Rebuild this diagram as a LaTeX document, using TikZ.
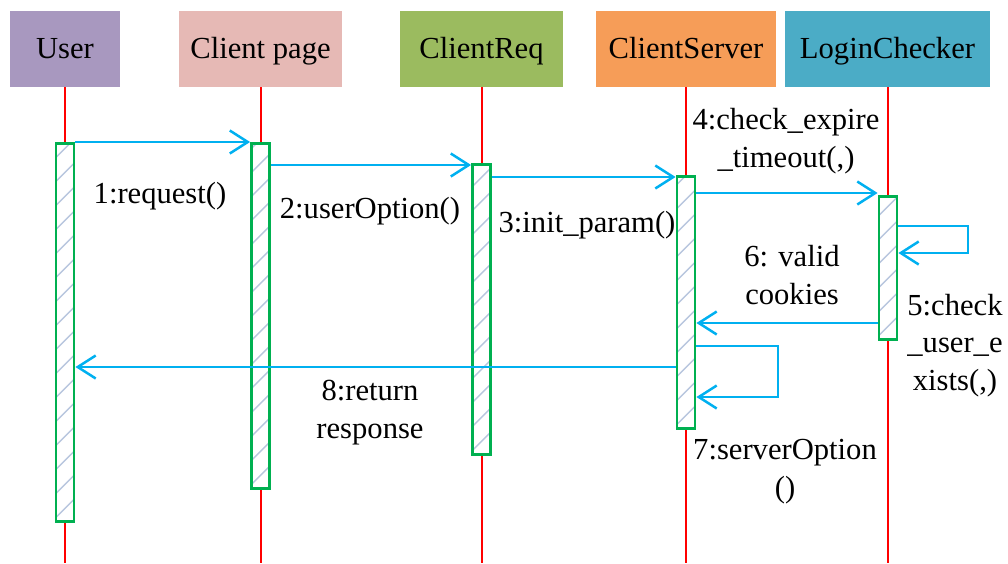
\documentclass[tikz,border=0pt]{standalone}
\usepackage{fontspec}
\setmainfont{Liberation Serif}
\usetikzlibrary{arrows.meta,calc}

\definecolor{cUser}{HTML}{A898BF}
\definecolor{cPage}{HTML}{E6B9B5}
\definecolor{cReq}{HTML}{9BBB5F}
\definecolor{cServ}{HTML}{F69D58}
\definecolor{cLogin}{HTML}{4BACC6}
\definecolor{lifered}{HTML}{FF0000}
\definecolor{bargreen}{HTML}{00B050}
\definecolor{hatchblue}{HTML}{B8C6DE}
\definecolor{msgblue}{HTML}{00B0F0}

\tikzset{
  every node/.style={font=\fontsize{30.6}{37.5}\selectfont},
  hdr/.style={rectangle, inner sep=0pt, minimum height=76pt,
    text height=24pt, text depth=6pt},
  life/.style={draw=lifered, line width=2pt},
  hatchline/.style={draw=hatchblue, line width=1.4pt},
  actbar/.style={rectangle, draw=bargreen, line width=2.8pt, fill=white,
    minimum width=18pt, inner sep=0pt, anchor=north,
    path picture={
      \foreach \k in {-1,...,18}{
        \draw[hatchline] ($(path picture bounding box.south west)+(0pt,\k*24pt-20pt)$) -- ++(22pt,22pt);
      }
    }},
  msg/.style={draw=msgblue, line width=2.5pt,
    -{Straight Barb[length=18pt,width=23pt]}},
  lbl/.style={align=center, inner sep=0pt},
}

\begin{document}
\begin{tikzpicture}[x=1pt,y=-1pt]
  \useasboundingbox (0,0) rectangle (1008,563);

  % participant heads
  \node[hdr, fill=cUser,  minimum width=110pt] (hUser)  at (65,49)    {User};
  \node[hdr, fill=cPage,  minimum width=163pt] (hPage)  at (260.5,49) {Client page};
  \node[hdr, fill=cReq,   minimum width=163pt] (hReq)   at (481.5,49) {ClientReq};
  \node[hdr, fill=cServ,  minimum width=180pt] (hServ)  at (686,49)   {ClientServer};
  \node[hdr, fill=cLogin, minimum width=205pt] (hLogin) at (887.5,49) {LoginChecker};

  % lifelines
  \coordinate (bottom) at (0,563);
  \foreach \h in {hUser,hPage,hReq,hServ,hLogin}
    \draw[life] (\h.south) -- (\h.south |- bottom);

  % activation bars
  \node[actbar, minimum height=378pt] (bUser)  at (65,142)    {};
  \node[actbar, minimum height=345pt] (bPage)  at (260.5,142) {};
  \node[actbar, minimum height=290pt] (bReq)   at (481.5,163) {};
  \node[actbar, minimum height=252pt] (bServ)  at (686,175)   {};
  \node[actbar, minimum height=143pt] (bLogin) at (888,195)   {};

  % message levels
  \coordinate (m2) at (0,165);
  \coordinate (m3) at (0,177);
  \coordinate (m4) at (0,193);
  \coordinate (l5) at (968,226);
  \coordinate (m5) at (0,253);
  \coordinate (m6) at (0,323);
  \coordinate (l7) at (778,346);
  \coordinate (m7) at (0,397);
  \coordinate (m8) at (0,367);

  % messages
  \draw[msg] (bUser.north east) -- (bPage.north west);
  \draw[msg] (bPage.east |- m2) -- (bReq.west |- m2);
  \draw[msg] (bReq.east |- m3) -- (bServ.west |- m3);
  \draw[msg] (bServ.east |- m4) -- (bLogin.west |- m4);
  \draw[msg] (bLogin.east |- l5) -- (l5) |- (bLogin.east |- m5);
  \draw[msg] (bLogin.west |- m6) -- (bServ.east |- m6);
  \draw[msg] (bServ.east |- l7) -- (l7) |- (bServ.east |- m7);
  \draw[msg] (bServ.west |- m8) -- (bUser.east |- m8);

  % message labels
  \node[lbl, anchor=base] (t1) at (160,203) {1:request()};
  \node[lbl, anchor=base] (t2) at (370,218) {2:userOption()};
  \node[lbl, anchor=base] (t3) at (587,232) {3:init\_param()};
  \node[lbl, anchor=base] (t4) at (786,167) {4:check\_expire\\\_timeout(,)};
  \node[lbl, anchor=base] (t5) at (955,390) {5:check\\\_user\_e\\xists(,)};
  \node[lbl, anchor=base] (t6) at (792,304) {6: valid\\cookies};
  \node[lbl, anchor=base] (t7) at (785,497) {7:serverOption\\()};
  \node[lbl, anchor=base] (t8) at (370,438) {8:return\\response};
\end{tikzpicture}
\end{document}
